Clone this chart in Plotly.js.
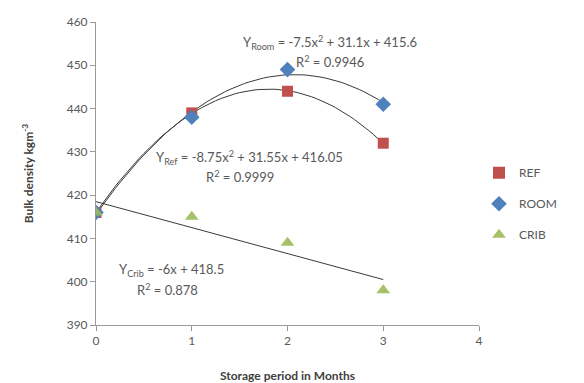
<!DOCTYPE html>
<html><head><meta charset="utf-8">
<script src="https://cdn.plot.ly/plotly-3.0.1.min.js"></script>
<style>html,body{margin:0;padding:0;background:#fff}#c{width:584px;height:383px}</style>
</head><body><div id="c"></div>
<script>
const months = [0, 1, 2, 3];
const refValues = [416, 439, 444, 432];
const roomValues = [416, 438, 449, 441];
const cribValues = [416, 415, 409, 398];
const seriesNames = ['REF', 'ROOM', 'CRIB'];
// trendline coefficients [a, b, c] for a*x^2 + b*x + c (as printed in the chart)
const refFit = [-8.75, 31.55, 416.05];
const roomFit = [-7.5, 31.1, 415.6];
const cribFit = [0, -6, 418.5];
const xTicks = [0, 1, 2, 3, 4];
const yTicks = [390, 400, 410, 420, 430, 440, 450, 460];

function curve(c) {
  const xs = [], ys = [];
  for (let i = 0; i <= 60; i++) { const x = 3 * i / 60; xs.push(x); ys.push(c[0]*x*x + c[1]*x + c[2]); }
  return {x: xs, y: ys, mode: 'lines', line: {color: '#3a3a3a', width: 1}, showlegend: false, hoverinfo: 'skip'};
}

const font = 'Lato, "Open Sans", sans-serif';
const data = [
  curve(roomFit), curve(refFit), curve(cribFit),
  {x: months, y: refValues, name: seriesNames[0], legendgroup: 'a', mode: 'markers', marker: {symbol: 'square', size: 11, color: '#C0504D'}},
  {x: months, y: roomValues, name: seriesNames[1], legendgroup: 'b', mode: 'markers', marker: {symbol: 'diamond', size: 12, color: '#4F81BD'}},
  {x: months, y: cribValues, name: seriesNames[2], legendgroup: 'c', mode: 'markers', marker: {symbol: 'triangle-up', size: 12, color: '#9BBB59', opacity: 0.9}}
];

const ann = (x, y, t) => ({x, y, xref: 'x', yref: 'y', text: t, showarrow: false, font: {size: 13, color: '#595959', family: font}});

const layout = {
  width: 584, height: 383,
  margin: {l: 96, r: 105, t: 22, b: 58},
  paper_bgcolor: '#fff', plot_bgcolor: '#fff',
  font: {family: font, color: '#595959', size: 12},
  showlegend: true,
  legend: {x: 1.0, xanchor: 'left', y: 0.40, yanchor: 'middle', traceorder: 'grouped', tracegroupgap: 12, font: {size: 12, color: '#595959'}, itemsizing: 'constant'},
  xaxis: {range: [0, 4], tickvals: xTicks, showgrid: false, zeroline: false, showline: true, linecolor: '#9a9a9a', ticks: 'outside', ticklen: 5, tickcolor: '#9a9a9a',
          title: {text: '<b>Storage period in Months</b>', font: {size: 12, color: '#404040', family: font}, standoff: 24}},
  yaxis: {range: [390, 460], tickvals: yTicks, showgrid: false, zeroline: false, showline: true, linecolor: '#9a9a9a', ticks: 'outside', ticklen: 5, tickcolor: '#9a9a9a',
          title: {text: '<b>Bulk density kgm<sup>-3</sup></b>', font: {size: 12, color: '#404040', family: font}, standoff: 30}},
  annotations: [
    ann(2.44, 455.2, 'Y<sub>Room</sub> = -7.5x<sup>2</sup> + 31.1x + 415.6'),
    ann(2.44, 450.8, 'R<sup>2</sup> = 0.9946'),
    ann(1.6, 428.8, 'Y<sub>Ref</sub> = -8.75x<sup>2</sup> + 31.55x + 416.05'),
    ann(1.5, 424.2, 'R<sup>2</sup> = 0.9999'),
    ann(0.79, 402.7, 'Y<sub>Crib</sub> = -6x + 418.5'),
    ann(0.75, 398.1, 'R<sup>2</sup> = 0.878')
  ]
};
Plotly.newPlot('c', data, layout, {displayModeBar: false, staticPlot: true});
</script></body></html>
